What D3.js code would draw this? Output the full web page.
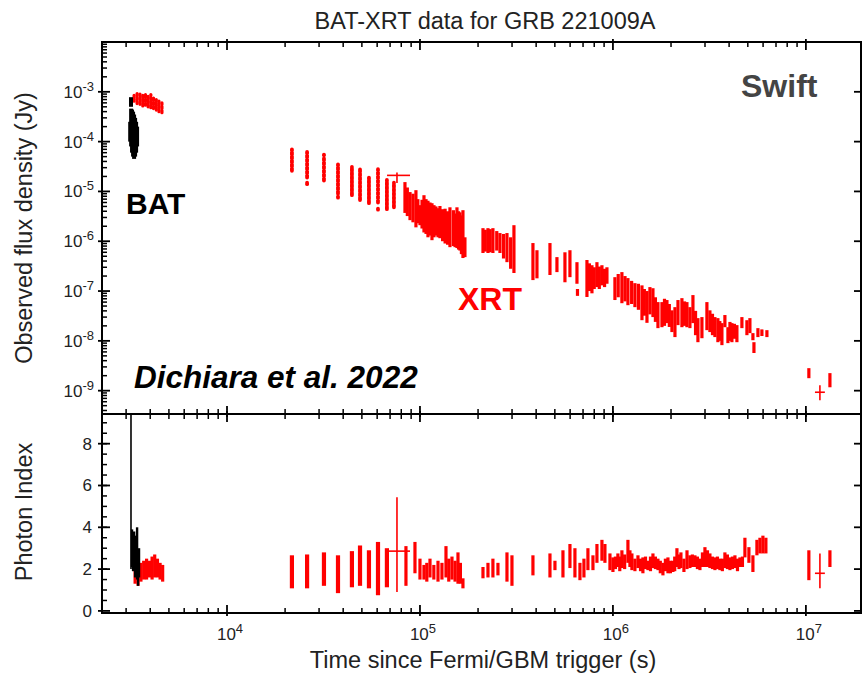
<!DOCTYPE html>
<html>
<head>
<meta charset="utf-8">
<script src="https://cdn.jsdelivr.net/npm/d3@7/dist/d3.min.js"></script>
<style>
  html, body { margin: 0; padding: 0; background: #fff; }
  svg { display: block; font-family: "Liberation Sans", Arial, Helvetica, sans-serif; }
</style>
</head>
<body>
<svg id="chart" width="863" height="676"></svg>
<script>
// ---- Swift BAT (black) : [time s, flux low Jy, flux high Jy]
const batFlux = [
  [3150, 1.0e-4, 2.5e-4], [3180, 5.0e-4, 7.8e-4], [3185, 8e-5, 4.6e-4],
  [3220, 6e-5, 4.4e-4], [3260, 5e-5, 4.0e-4], [3300, 4.5e-5, 3.5e-4],
  [3340, 5e-5, 3.0e-4], [3380, 6e-5, 2.5e-4], [3420, 8e-5, 2.0e-4]
];
// BAT photon index : [time s, index low, index high]
const batIndex = [
  [3180, 2.0, 10], [3220, 2.1, 3.9], [3260, 1.9, 3.5], [3300, 2.2, 3.8],
  [3340, 1.6, 3.2], [3380, 1.7, 3.6], [3420, 1.5, 4.0], [3460, 1.2, 2.6],
  [3500, 1.6, 3.0]
];

// ---- Swift XRT (red) : [time s, flux low Jy, flux high Jy]
const xrtFluxWT = [
  [3300, 6.5e-4, 8.5e-4], [3420, 5.8e-4, 9.2e-4], [3540, 5.6e-4, 9.0e-4],
  [3660, 5.2e-4, 8.6e-4], [3780, 5.4e-4, 9.4e-4], [3900, 5.0e-4, 8.4e-4],
  [4030, 4.8e-4, 8.8e-4], [4160, 4.6e-4, 8.0e-4], [4300, 4.3e-4, 7.2e-4],
  [4440, 4.0e-4, 6.6e-4], [4600, 3.8e-4, 6.0e-4]
];
const xrtFluxEarly = [
  [21700, 2.6e-5, 7.0e-5], [26000, 1.9e-5, 6.2e-5], [26000, 1.4e-5, 1.5e-5],
  [31800, 1.65e-5, 4.6e-5], [31800, 5.3e-5, 5.5e-5], [37600, 9e-6, 3.5e-5],
  [37600, 7.5e-6, 7.9e-6], [44400, 8.4e-6, 3.1e-5], [48900, 6.7e-6, 2.9e-5],
  [54400, 5.8e-6, 1.9e-5], [60600, 6e-6, 2.8e-5], [60600, 4.3e-6, 4.5e-6],
  [67400, 4.4e-6, 1.7e-5], [73300, 4.8e-6, 1.5e-5]
];
const xrtFlux = [
  [83600, 3.7e-6, 1.54e-5], [86000, 3.2e-6, 1.2e-5], [88800, 2.65e-6, 9.7e-6],
  [92000, 2.4e-6, 9.0e-6], [95300, 1.9e-6, 1.06e-5], [97500, 2.3e-6, 7.0e-6],
  [100000, 2.1e-6, 5.3e-6], [102500, 1.8e-6, 6.8e-6], [104900, 1.5e-6, 8.4e-6],
  [107500, 1.4e-6, 7.0e-6], [110000, 1.2e-6, 6.5e-6], [112700, 1.3e-6, 6.0e-6],
  [115400, 1.05e-6, 5.8e-6], [118200, 1.2e-6, 5.3e-6], [121000, 1.3e-6, 5.0e-6],
  [124000, 1.2e-6, 4.6e-6], [126900, 1.15e-6, 5.1e-6], [131000, 1.0e-6, 4.4e-6],
  [135000, 9e-7, 4.5e-6], [139000, 8.5e-7, 4.0e-6], [143000, 7.6e-7, 4.8e-6],
  [149000, 8e-7, 4.2e-6], [152000, 7.6e-7, 3.6e-6], [155500, 7.3e-7, 4.8e-6],
  [158500, 6.8e-7, 4.0e-6], [161000, 6.5e-7, 3.8e-6], [164000, 5.5e-7, 3.3e-6],
  [167000, 4.6e-7, 4.2e-6], [171000, 4.8e-7, 1.2e-6],
  [212100, 5.8e-7, 1.83e-6], [218000, 6.2e-7, 1.7e-6], [225100, 5.8e-7, 1.83e-6],
  [231000, 6.0e-7, 1.75e-6], [238800, 5.8e-7, 1.83e-6], [250000, 6.5e-7, 1.6e-6],
  [259700, 5.8e-7, 1.46e-6], [271000, 4.5e-7, 1.4e-6], [282400, 3.8e-7, 1.46e-6],
  [295000, 2.8e-7, 1.2e-6], [306900, 2.3e-7, 2.1e-6],
  [385000, 1.66e-7, 9.2e-7], [403900, 1.8e-7, 6.6e-7], [471700, 2.1e-7, 9.2e-7],
  [512700, 2.4e-7, 4.8e-7], [564000, 1.5e-7, 6.0e-7], [598700, 1.9e-7, 6.6e-7],
  [651000, 1.4e-7, 3.8e-7], [655000, 8e-8, 1.1e-7], [733400, 7.6e-8, 4.2e-7],
  [755000, 1.0e-7, 3.6e-7], [778500, 9e-8, 3.3e-7], [800000, 1.1e-7, 3.0e-7],
  [826300, 1.2e-7, 3.8e-7], [850000, 1.1e-7, 3.1e-7], [877000, 1.3e-7, 3.3e-7],
  [905000, 1.2e-7, 2.8e-7], [931000, 1.4e-7, 3.0e-7], [1.024e6, 6.6e-8, 1.9e-7],
  [1.065e6, 7.5e-8, 2.2e-7], [1.113e6, 5.7e-8, 2.4e-7], [1.155e6, 6.2e-8, 2.0e-7],
  [1.196e6, 5.2e-8, 1.82e-7], [1.250e6, 5.5e-8, 1.6e-7], [1.300e6, 4.75e-8, 1.44e-7],
  [1.355e6, 4.2e-8, 1.4e-7], [1.414e6, 2.6e-8, 1.3e-7], [1.455e6, 3.2e-8, 1.1e-7],
  [1.501e6, 2.3e-8, 1.0e-7], [1.555e6, 3.4e-8, 1.2e-7], [1.612e6, 3.0e-8, 1.14e-7],
  [1.660e6, 2.4e-8, 7.5e-8], [1.711e6, 1.8e-8, 6.0e-8],
  [1.795e6, 1.88e-8, 6.0e-8], [1.850e6, 2.0e-8, 7.0e-8], [1.905e6, 2.27e-8, 6.6e-8],
  [1.960e6, 1.9e-8, 5.5e-8], [2.022e6, 1.5e-8, 4.1e-8],
  [2.096e6, 1.19e-8, 4.75e-8], [2.173e6, 2.07e-8, 6.6e-8], [2.278e6, 1.88e-8, 7.2e-8],
  [2.350e6, 2.0e-8, 6.2e-8], [2.418e6, 1.88e-8, 6.0e-8], [2.506e6, 1.8e-8, 4.75e-8],
  [2.598e6, 2.27e-8, 8.3e-8], [2.680e6, 1.3e-8, 4.0e-8],
  [2.757e6, 9.4e-9, 2.86e-8], [2.892e6, 1.13e-8, 3.0e-8], [3.069e6, 1.64e-8, 6.0e-8],
  [3.181e6, 1.5e-8, 4.1e-8], [3.280e6, 1.3e-8, 3.5e-8], [3.377e6, 1.19e-8, 3.0e-8],
  [3.499e6, 9.4e-9, 2.86e-8], [3.580e6, 1.0e-8, 2.5e-8],
  [3.671e6, 8.2e-9, 2.27e-8], [3.804e6, 1.88e-8, 3.3e-8], [3.944e6, 9.0e-9, 1.88e-8],
  [4.040e6, 1.0e-8, 2.4e-8], [4.136e6, 9.4e-9, 2.27e-8], [4.260e6, 1.1e-8, 2.2e-8],
  [4.390e6, 9.4e-9, 2.07e-8], [4.660e6, 1.8e-8, 3.0e-8],
  [4.947e6, 1.3e-8, 2.6e-8], [5.127e6, 1.43e-8, 2.86e-8], [5.314e6, 1.03e-8, 1.43e-8],
  [5.38e6, 5.7e-9, 9.4e-9], [5.641e6, 1.19e-8, 1.8e-8], [5.916e6, 1.25e-8, 1.7e-8],
  [6.280e6, 1.19e-8, 1.64e-8],
  [1.036e7, 1.78e-9, 2.83e-9], [1.332e7, 1.17e-9, 2.25e-9]
];
// XRT points with time bins : [time, t start, t end, flux, flux low, flux high]
const xrtFluxBinned = [
  [76000, 67500, 88800, 2.1e-5, 1.47e-5, 2.4e-5],
  [1.182e7, 1.114e7, 1.254e7, 9.3e-10, 6.4e-10, 1.29e-9]
];

// XRT photon index : [time s, index low, index high]
const xrtIndexWT = [
  [3340, 1.3, 2.3], [3460, 1.2, 2.4], [3580, 1.4, 2.3], [3700, 1.5, 2.4],
  [3830, 1.5, 2.5], [3960, 1.6, 2.4], [4090, 1.5, 2.6], [4220, 1.6, 2.7],
  [4360, 1.6, 2.5], [4500, 1.5, 2.3], [4640, 1.4, 2.2]
];
const xrtIndexEarly = [
  [21700, 1.08, 2.66], [26000, 1.08, 2.7], [31800, 1.2, 2.8], [37600, 0.85, 2.66],
  [44400, 1.13, 2.86], [48900, 1.2, 3.13], [54400, 1.08, 2.9], [60600, 0.75, 3.3],
  [67400, 1.13, 3.0]
];
const xrtIndex = [
  [84600, 1.2, 3.1], [94200, 1.8, 3.3], [100000, 1.5, 2.5],
  [104900, 1.5, 2.2], [108500, 1.4, 2.3], [112700, 1.6, 2.5], [118000, 1.5, 2.2],
  [124000, 1.4, 2.4], [130000, 1.5, 2.3], [136400, 1.6, 3.1], [141000, 1.4, 2.5],
  [146500, 1.5, 2.6], [152000, 1.4, 2.4], [157400, 1.3, 2.8], [162000, 1.3, 2.3],
  [167000, 1.08, 1.56],
  [212100, 1.56, 2.1], [225100, 1.6, 2.3], [238800, 1.6, 2.5], [253600, 1.7, 2.3],
  [282400, 1.4, 2.8], [299700, 1.2, 2.66], [385000, 1.7, 2.66], [471700, 1.6, 2.75],
  [500600, 1.95, 2.4], [550800, 1.6, 2.9], [598700, 2.05, 3.2], [635400, 1.6, 3.0],
  [674600, 1.47, 2.3], [707500, 1.6, 2.5], [742000, 1.95, 3.0], [787900, 1.95, 2.66],
  [826300, 2.3, 3.2], [877000, 2.4, 3.4], [908900, 2.3, 3.2], [965000, 1.95, 2.75],
  [1.0e6, 1.86, 2.56], [1.03e6, 2.0, 2.6], [1.061e6, 2.1, 2.75], [1.085e6, 1.9, 2.6],
  [1.113e6, 2.05, 2.9], [1.15e6, 2.0, 2.7], [1.196e6, 2.3, 3.4], [1.225e6, 2.1, 2.9],
  [1.254e6, 1.95, 2.75], [1.30e6, 1.9, 2.5], [1.348e6, 2.05, 2.66], [1.39e6, 1.9, 2.5],
  [1.430e6, 1.8, 2.56], [1.475e6, 2.0, 2.6], [1.518e6, 1.95, 2.4], [1.565e6, 1.9, 2.6],
  [1.612e6, 2.05, 2.75], [1.66e6, 2.0, 2.6], [1.711e6, 1.95, 2.5], [1.76e6, 1.8, 2.4],
  [1.816e6, 1.7, 2.3], [1.87e6, 1.9, 2.5], [1.928e6, 1.8, 2.56], [1.985e6, 1.8, 2.4],
  [2.046e6, 1.86, 2.4], [2.09e6, 1.9, 2.6], [2.146e6, 2.1, 3.0], [2.20e6, 2.0, 2.7],
  [2.251e6, 2.05, 2.8], [2.333e6, 1.86, 2.5], [2.42e6, 2.0, 2.9], [2.506e6, 2.05, 2.66],
  [2.58e6, 2.1, 2.7], [2.660e6, 2.1, 2.66], [2.74e6, 2.0, 2.6], [2.824e6, 1.95, 2.5],
  [2.91e6, 2.1, 2.8], [2.998e6, 2.1, 3.05], [3.09e6, 2.1, 2.9], [3.181e6, 2.05, 2.75],
  [3.28e6, 2.0, 2.6], [3.377e6, 1.95, 2.56], [3.48e6, 2.0, 2.6], [3.583e6, 1.95, 2.5],
  [3.69e6, 1.9, 2.5], [3.804e6, 2.05, 2.8], [3.92e6, 2.0, 2.7], [4.039e6, 1.95, 2.56],
  [4.16e6, 2.0, 2.6], [4.288e6, 2.05, 2.66], [4.42e6, 1.9, 2.5], [4.550e6, 2.1, 2.56],
  [4.69e6, 2.1, 2.6], [4.830e6, 2.56, 3.5],
  [5.066e6, 2.3, 3.05], [5.314e6, 1.86, 2.66], [5.574e6, 2.66, 3.4], [5.778e6, 2.75, 3.5],
  [5.987e6, 2.75, 3.6], [6.204e6, 2.75, 3.5],
  [1.036e7, 1.47, 2.9], [1.332e7, 2.1, 2.9]
];
// binned index points : [time, t start, t end, index, low, high]
const xrtIndexBinned = [
  [76000, 67500, 88800, 2.86, 0.9, 5.44],
  [1.182e7, 1.114e7, 1.254e7, 1.8, 1.08, 2.75]
];

// axis ticks
const fluxTickExps = [-9, -8, -7, -6, -5, -4, -3];
const timeTickExps = [4, 5, 6, 7];
const indexTickLabels = [0, 2, 4, 6, 8];

const RED = "#ff0000";
const svg = d3.select("#chart");

const left = 102, right = 861;
const fTop = 42, fBottom = 414, iTop = 414, iBottom = 613;

const x = d3.scaleLog().domain([2250, 1.93e7]).range([left, right]);
const yF = d3.scaleLog().domain([3.4e-10, 1e-2]).range([fBottom, fTop]);
const yI = d3.scaleLinear().domain([-0.1, 9.42]).range([iBottom, iTop]);

// clip paths for the two panels
const defs = svg.append("defs");
defs.append("clipPath").attr("id", "clipF").append("rect")
  .attr("x", left).attr("y", fTop).attr("width", right - left).attr("height", fBottom - fTop);
defs.append("clipPath").attr("id", "clipI").append("rect")
  .attr("x", left).attr("y", iTop).attr("width", right - left).attr("height", iBottom - iTop);

// ---------- title ----------
svg.append("text").attr("x", 485).attr("y", 29).attr("text-anchor", "middle")
  .attr("font-size", 23.5).attr("fill", "#222").text("BAT-XRT data for GRB 221009A");

// ---------- data: flux panel ----------
const gF = svg.append("g").attr("clip-path", "url(#clipF)");

function vbars(g, data, y, color, width, dash) {
  g.selectAll(null).data(data).enter().append("line")
    .attr("x1", d => x(d[0])).attr("x2", d => x(d[0]))
    .attr("y1", d => y(d[1])).attr("y2", d => y(d[2]))
    .attr("stroke", color).attr("stroke-width", width)
    .attr("stroke-dasharray", dash || null)
    .attr("stroke-linecap", dash ? "round" : "butt");
}
function crosses(g, data, y, color) {
  const c = g.selectAll(null).data(data).enter().append("g");
  c.append("line").attr("x1", d => x(d[1])).attr("x2", d => x(d[2]))
    .attr("y1", d => y(d[3])).attr("y2", d => y(d[3]))
    .attr("stroke", color).attr("stroke-width", 1.6);
  c.append("line").attr("x1", d => x(d[0])).attr("x2", d => x(d[0]))
    .attr("y1", d => y(d[4])).attr("y2", d => y(d[5]))
    .attr("stroke", color).attr("stroke-width", 1.6);
}

vbars(gF, xrtFluxWT, yF, RED, 3.2, "2.5,1.5");
vbars(gF, batFlux, yF, "#000", 4);
vbars(gF, xrtFluxEarly, yF, RED, 3.8, "2.6,1.4");
vbars(gF, xrtFlux, yF, RED, 3.2);
crosses(gF, xrtFluxBinned, yF, RED);

// ---------- data: photon index panel ----------
const gI = svg.append("g").attr("clip-path", "url(#clipI)");
vbars(gI, xrtIndexWT, yI, RED, 3.2);
vbars(gI, xrtIndexEarly, yI, RED, 4.2);
vbars(gI, xrtIndex, yI, RED, 3.2);
vbars(gI, batIndex.slice(0, 1), yI, "#000", 1.6);
vbars(gI, batIndex.slice(1), yI, "#000", 2.4);
crosses(gI, xrtIndexBinned, yI, RED);

// ---------- axes / frames ----------
const axisG = svg.append("g").attr("stroke", "#000").attr("fill", "none");

function frame(y0, y1) {
  axisG.append("rect").attr("x", left).attr("y", y0).attr("width", right - left)
    .attr("height", y1 - y0).attr("stroke-width", 2);
}
frame(fTop, fBottom);
frame(iTop, iBottom);

// time ticks (minor 2..9, major decades) on every horizontal edge
const timeMinor = [];
for (let e = 3; e <= 7; e++) for (let m = 2; m <= 9; m++) {
  const v = m * Math.pow(10, e);
  if (v >= 2250 && v <= 1.93e7) timeMinor.push(v);
}
const timeMajor = timeTickExps.map(e => Math.pow(10, e));

function hTicks(yEdge, dir) {
  axisG.selectAll(null).data(timeMinor).enter().append("line")
    .attr("x1", d => x(d)).attr("x2", d => x(d))
    .attr("y1", yEdge).attr("y2", yEdge + dir * 5).attr("stroke-width", 1.5);
  axisG.selectAll(null).data(timeMajor).enter().append("line")
    .attr("x1", d => x(d)).attr("x2", d => x(d))
    .attr("y1", yEdge - dir * 3).attr("y2", yEdge + dir * 8).attr("stroke-width", 1.8);
}
hTicks(fTop, 1);
hTicks(fBottom, -1);
hTicks(iTop, 1);
hTicks(iBottom, -1);

// flux ticks
const fluxMinor = [];
for (let e = -10; e <= -3; e++) for (let m = 2; m <= 9; m++) {
  const v = m * Math.pow(10, e);
  if (v >= 3.4e-10 && v <= 1e-2) fluxMinor.push(v);
}
const fluxMajor = fluxTickExps.map(e => Math.pow(10, e));
axisG.selectAll(null).data(fluxMinor).enter().append("line")
  .attr("x1", left).attr("x2", left + 5).attr("y1", d => yF(d)).attr("y2", d => yF(d)).attr("stroke-width", 1.5);
axisG.selectAll(null).data(fluxMajor).enter().append("line")
  .attr("x1", left - 4).attr("x2", left + 8).attr("y1", d => yF(d)).attr("y2", d => yF(d)).attr("stroke-width", 1.8);
axisG.selectAll(null).data(fluxMajor).enter().append("line")
  .attr("x1", right - 7).attr("x2", right).attr("y1", d => yF(d)).attr("y2", d => yF(d)).attr("stroke-width", 1.8);

// index ticks
const indexMinor = d3.range(0.5, 9.4, 0.5);
axisG.selectAll(null).data(indexMinor).enter().append("line")
  .attr("x1", left).attr("x2", left + 5).attr("y1", d => yI(d)).attr("y2", d => yI(d)).attr("stroke-width", 1.5);
axisG.selectAll(null).data(indexTickLabels).enter().append("line")
  .attr("x1", left - 4).attr("x2", left + 8).attr("y1", d => yI(d)).attr("y2", d => yI(d)).attr("stroke-width", 1.8);
axisG.selectAll(null).data(indexTickLabels).enter().append("line")
  .attr("x1", right - 7).attr("x2", right).attr("y1", d => yI(d)).attr("y2", d => yI(d)).attr("stroke-width", 1.8);

// ---------- tick labels ----------
const lab = svg.append("g").attr("fill", "#222").attr("font-size", 17);

// flux: 10^e
const fl = lab.selectAll(null).data(fluxTickExps).enter().append("text")
  .attr("x", 94).attr("y", d => yF(Math.pow(10, d)) + 6).attr("text-anchor", "end");
fl.append("tspan").text("10");
fl.append("tspan").attr("dy", -7).attr("font-size", 13).text(d => d);

// index labels
lab.selectAll(null).data(indexTickLabels).enter().append("text")
  .attr("x", 92).attr("y", d => yI(d) + 6).attr("text-anchor", "end").text(d => d);

// time labels
const tl = lab.selectAll(null).data(timeTickExps).enter().append("text")
  .attr("x", d => x(Math.pow(10, d)) + 3).attr("y", 640).attr("text-anchor", "middle");
tl.append("tspan").text("10");
tl.append("tspan").attr("dy", -7).attr("font-size", 13).text(d => d);

// axis titles
svg.append("text").attr("transform", "translate(32,228) rotate(-90)")
  .attr("text-anchor", "middle").attr("font-size", 23.5).attr("fill", "#222")
  .text("Observed flux density (Jy)");
svg.append("text").attr("transform", "translate(32,512) rotate(-90)")
  .attr("text-anchor", "middle").attr("font-size", 23.5).attr("fill", "#222")
  .text("Photon Index");
svg.append("text").attr("x", 483).attr("y", 668).attr("text-anchor", "middle")
  .attr("font-size", 23.5).attr("fill", "#222").text("Time since Fermi/GBM trigger (s)");

// ---------- annotations ----------
svg.append("text").attr("x", 741).attr("y", 97).attr("font-size", 32)
  .attr("font-weight", "bold").attr("fill", "#444").text("Swift");
svg.append("text").attr("x", 126).attr("y", 214).attr("font-size", 30)
  .attr("font-weight", "bold").attr("fill", "#000").text("BAT");
svg.append("text").attr("x", 458).attr("y", 310).attr("font-size", 32)
  .attr("font-weight", "bold").attr("fill", RED).text("XRT");
svg.append("text").attr("x", 134).attr("y", 388).attr("font-size", 31.5)
  .attr("font-weight", "bold").attr("font-style", "italic").attr("fill", "#000")
  .text("Dichiara et al. 2022");
</script>
</body>
</html>
